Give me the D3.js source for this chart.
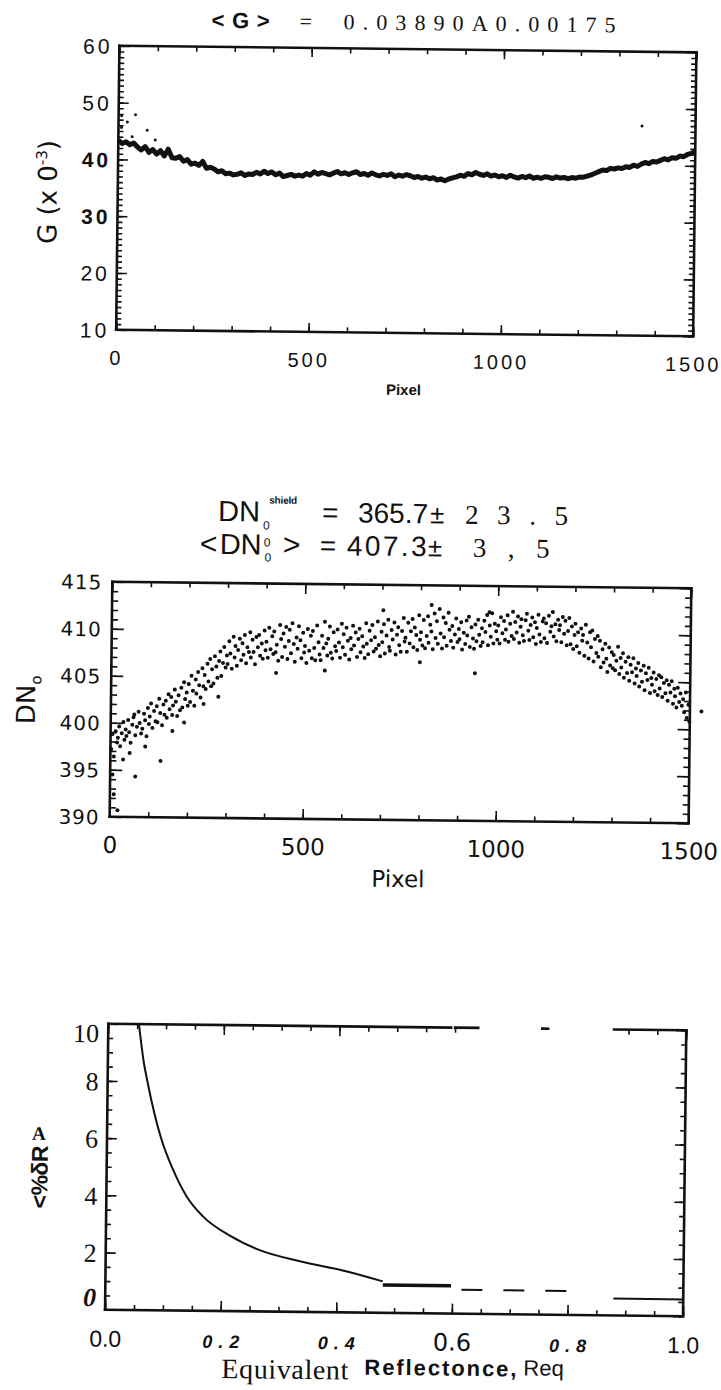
<!DOCTYPE html>
<html>
<head>
<meta charset="utf-8">
<script src="https://cdn.jsdelivr.net/npm/d3@7/dist/d3.min.js"></script>
<style>
  body { margin: 0; background: #fff; }
  svg { display: block; }
</style>
</head>
<body>
<script>
// ---------- panel 1 : G per pixel (one reading every gStep pixels) ----------
const gStep = 10
const gValues = [
  43.4, 42.8, 43.1, 42.6, 42.9, 42.2, 41.7, 42.3, 41.3, 41.8,
  41.0, 41.6, 40.7, 41.9, 40.4, 40.3, 40.6, 39.8, 40.1, 39.3,
  39.5, 39.1, 39.8, 38.6, 38.8, 38.5, 38.0, 38.2, 37.7, 37.8,
  37.5, 37.6, 37.9, 37.4, 37.7, 37.6, 38.0, 37.7, 38.2, 37.8,
  38.1, 37.6, 37.9, 37.3, 37.5, 37.7, 37.4, 37.6, 37.4, 37.9,
  37.6, 38.2, 37.8, 38.1, 37.9, 37.7, 38.0, 38.3, 37.9, 38.1,
  37.8, 38.1, 38.3, 37.8, 38.0, 37.7, 38.1, 37.8, 37.6, 37.9,
  37.7, 38.0, 37.5, 37.8, 37.6, 37.9, 37.7, 37.4, 37.6, 37.3,
  37.5, 37.2, 37.4, 37.0, 37.2, 36.9, 37.2, 37.4, 37.6, 37.9,
  37.7, 38.2, 38.0, 38.4, 38.1, 37.9, 38.2, 37.8, 38.0, 37.7,
  37.9, 37.6, 38.0, 37.7, 37.5, 37.8, 37.6, 37.9, 37.5, 37.7,
  37.5, 37.8, 37.7, 37.5, 37.8, 37.6, 37.7, 37.5, 37.7, 37.6,
  37.8, 37.8, 38.0, 38.2, 38.5, 38.8, 39.1, 39.0, 39.4, 39.3,
  39.5, 39.4, 39.7, 39.6, 40.0, 39.8, 40.2, 40.5, 40.3, 40.7,
  40.6, 40.9, 41.2, 41.0, 41.4, 41.3, 41.7, 41.6, 42.0, 42.2,
  42.5
]
const gStray = [[8, 47.7], [8, 45.6], [23, 46.6], [36, 44.0], [44, 47.9], [75, 45.2], [96, 43.5], [1361, 46.9]]
const gYTicks = [10, 20, 30, 40, 50, 60]
const pixTicks = [0, 500, 1000, 1500]

// ---------- panel 2 : DN0 per pixel ----------
const dnPoints = [
  [2,397.2],[5,398.8],[9,396.4],[13,399.1],[17,397.9],[19,398.4],
  [22,399.6],[25,397.5],[29,398.9],[33,400.1],[36,398.2],[39,399.3],
  [41,398.6],[45,400.3],[48,399.0],[52,397.9],[56,399.8],[59,400.6],
  [61,400.9],[64,398.7],[68,399.6],[72,401.2],[75,400.0],[79,398.9],
  [82,399.4],[86,401.0],[89,400.3],[93,398.6],[96,401.6],[99,399.9],
  [101,400.7],[104,402.1],[108,399.5],[112,401.3],[116,400.2],[119,401.8],
  [121,400.1],[125,402.6],[128,401.1],[133,399.8],[136,402.0],[139,400.9],
  [142,402.4],[145,400.6],[149,403.1],[152,401.5],[156,402.8],[159,400.9],
  [161,401.9],[165,403.6],[168,402.3],[172,400.8],[175,403.0],[179,401.4],
  [182,403.8],[185,401.7],[189,404.4],[192,402.6],[196,403.3],[199,401.9],
  [201,404.2],[205,402.3],[208,405.1],[212,403.5],[216,401.9],[219,404.7],
  [221,403.2],[225,405.5],[228,404.1],[232,402.8],[236,405.9],[239,404.0],
  [242,405.2],[245,403.7],[249,406.4],[252,404.5],[256,406.9],[259,404.0],
  [261,405.8],[265,404.3],[268,407.2],[272,406.1],[275,404.9],[279,406.7],
  [282,407.7],[285,405.1],[289,406.5],[292,408.2],[296,406.0],[299,407.3],
  [301,406.4],[305,408.8],[308,407.5],[312,405.9],[316,409.3],[319,407.1],
  [321,408.3],[325,406.2],[328,407.9],[332,409.1],[336,406.8],[339,408.6],
  [342,407.4],[345,409.5],[349,406.5],[352,408.2],[356,407.7],[359,409.8],
  [361,407.1],[365,409.0],[368,407.7],[372,406.4],[375,409.3],[379,408.2],
  [382,409.5],[385,407.3],[389,408.6],[392,407.0],[396,410.0],[399,407.9],
  [401,408.8],[405,407.1],[408,410.3],[412,408.0],[416,409.4],[419,407.5],
  [421,409.9],[425,407.7],[428,408.5],[432,406.8],[436,410.6],[439,409.1],
  [442,407.2],[445,409.7],[449,408.3],[452,410.4],[456,407.0],[459,408.9],
  [461,410.1],[465,407.6],[468,410.8],[472,408.6],[475,406.7],[479,409.3],
  [482,408.1],[485,410.5],[489,409.0],[492,407.1],[496,409.8],[499,407.7],
  [501,408.4],[505,406.6],[508,410.2],[512,407.9],[516,409.5],[519,407.1],
  [521,410.0],[525,408.2],[528,406.9],[532,410.6],[536,408.8],[539,407.5],
  [542,406.9],[545,409.5],[549,408.2],[552,411.0],[556,408.7],[559,407.4],
  [561,409.2],[565,410.5],[568,407.7],[572,407.1],[575,409.9],[579,408.4],
  [582,407.9],[585,410.2],[589,408.8],[592,407.2],[596,410.8],[599,408.3],
  [601,409.7],[605,407.5],[608,410.4],[612,409.0],[616,407.0],[619,409.3],
  [621,408.1],[625,410.6],[628,408.5],[632,409.9],[636,407.3],[639,409.2],
  [642,410.3],[645,407.8],[649,409.5],[652,408.4],[656,407.2],[659,410.9],
  [661,408.7],[665,407.6],[668,410.1],[672,409.1],[675,410.7],[679,407.9],
  [682,409.4],[685,408.2],[689,411.1],[692,408.6],[696,407.4],[699,410.0],
  [701,408.9],[705,410.8],[708,407.7],[712,409.6],[716,411.3],[719,408.4],
  [721,408.0],[725,410.2],[728,409.2],[732,411.0],[736,407.6],[739,409.7],
  [742,410.5],[745,408.6],[749,407.9],[752,410.1],[756,411.5],[759,409.0],
  [761,409.4],[765,407.9],[768,411.0],[772,408.8],[775,410.1],[779,411.4],
  [782,408.4],[785,410.5],[789,409.7],[792,408.1],[796,411.8],[799,409.2],
  [801,410.0],[805,408.6],[808,411.3],[812,408.3],[816,409.6],[819,411.7],
  [821,408.9],[825,410.8],[828,410.1],[832,408.2],[836,412.0],[839,409.4],
  [842,411.2],[845,408.8],[849,412.5],[852,409.9],[856,408.3],[859,411.6],
  [861,409.5],[865,411.0],[868,408.6],[872,412.1],[875,410.3],[879,409.1],
  [882,410.7],[885,408.4],[889,409.8],[892,411.5],[896,409.0],[899,410.4],
  [901,409.3],[905,411.1],[908,408.2],[912,410.0],[916,408.8],[919,411.3],
  [921,409.7],[925,411.7],[928,408.5],[932,410.6],[936,409.4],[939,408.3],
  [942,410.9],[945,409.1],[949,411.4],[952,409.8],[956,408.6],[959,410.5],
  [961,409.0],[965,411.3],[968,410.1],[972,411.9],[975,408.7],[979,410.8],
  [982,409.6],[985,412.1],[989,408.9],[992,411.0],[996,410.2],[999,409.3],
  [1001,410.8],[1005,408.9],[1008,411.7],[1012,410.0],[1016,411.3],[1019,409.3],
  [1021,410.4],[1025,411.9],[1028,409.1],[1032,411.0],[1036,409.7],[1039,412.3],
  [1042,409.4],[1045,411.2],[1049,410.1],[1052,411.8],[1056,409.0],[1059,410.7],
  [1061,411.5],[1065,409.8],[1068,409.2],[1072,411.4],[1075,412.1],[1079,410.3],
  [1082,409.3],[1085,410.9],[1089,411.7],[1092,409.6],[1096,411.2],[1099,408.9],
  [1101,410.6],[1105,412.0],[1108,409.9],[1112,409.1],[1116,411.3],[1119,411.6],
  [1121,409.5],[1125,411.1],[1128,409.0],[1132,411.9],[1136,410.2],[1139,410.8],
  [1142,412.3],[1145,409.7],[1149,411.0],[1152,409.2],[1156,411.5],[1159,410.4],
  [1161,410.9],[1165,409.1],[1168,411.8],[1172,410.0],[1175,411.4],[1179,408.8],
  [1182,410.3],[1185,411.7],[1189,408.9],[1192,410.8],[1196,408.4],[1199,409.9],
  [1201,411.1],[1205,408.7],[1208,410.2],[1212,408.0],[1216,410.6],[1219,409.3],
  [1221,409.9],[1225,407.7],[1228,411.0],[1232,409.1],[1236,407.4],[1239,410.2],
  [1242,408.6],[1245,410.4],[1249,407.1],[1252,409.5],[1256,408.0],[1259,409.8],
  [1261,407.6],[1265,409.3],[1268,406.5],[1272,408.4],[1275,407.0],[1279,409.0],
  [1282,407.4],[1285,406.0],[1289,408.6],[1292,406.7],[1296,408.1],[1299,406.4],
  [1301,407.8],[1305,406.2],[1308,407.2],[1312,408.7],[1316,405.8],[1319,407.5],
  [1321,406.5],[1325,408.0],[1328,405.4],[1332,407.1],[1336,405.9],[1339,407.6],
  [1342,405.1],[1345,406.8],[1349,406.0],[1352,407.5],[1356,404.8],[1359,406.4],
  [1361,405.6],[1365,407.0],[1368,404.5],[1372,406.2],[1375,405.0],[1379,406.7],
  [1382,404.1],[1385,405.9],[1389,405.2],[1392,406.5],[1396,403.8],[1399,405.4],
  [1401,404.7],[1405,406.0],[1408,404.0],[1412,405.3],[1416,403.6],[1419,405.7],
  [1421,404.3],[1425,405.5],[1428,403.4],[1432,404.9],[1436,403.8],[1439,405.2],
  [1442,403.0],[1445,404.7],[1449,403.9],[1452,405.1],[1456,402.7],[1459,404.3],
  [1461,403.5],[1465,402.3],[1468,404.4],[1472,402.9],[1475,403.8],[1479,402.5],
  [1482,403.2],[1485,401.8],[1489,403.9],[1492,401.2],[1496,402.6],[1499,400.8],
  // scattered outliers
  [6,394.5],[10,392.4],[20,390.7],[33,396.1],[50,396.8],[65,394.3],[90,397.5],
  [130,396.0],[160,399.2],[190,400.1],[240,402.1],[278,402.9],[427,405.5],
  [553,405.8],[703,412.3],[799,406.8],[828,412.9],[942,405.7],[978,412.2],[1530,401.9]
]
const dnYTicks = [390, 395, 400, 405, 410, 415]

// ---------- panel 3 : error vs equivalent reflectance ----------
const errCurve = [
  [0.053, 10.0], [0.0623, 8.65], [0.069, 7.98], [0.0813, 6.90], [0.094, 5.99],
  [0.1147, 4.93], [0.1386, 4.0], [0.167, 3.31], [0.216, 2.62], [0.264, 2.16],
  [0.336, 1.77], [0.416, 1.44], [0.48, 1.10]
]
const errThick = [[0.48, 0.97], [0.598, 0.97]]
const errDash = [[0.616, 0.84], [0.799, 0.84]]
const errEnd = [[0.879, 0.59], [1.0, 0.59]]
const errTopEdge = [[0, 0.593], [0.600, 0.640], [0.751, 0.761], [0.875, 1.0]]
const rTicks = [0, 0.2, 0.4, 0.6, 0.8, 1.0]
const rTickLabels = ["0.0", "0.2", "0.4", "0.6", "0.8", "1.0"]
const errYTicks = [0, 2, 4, 6, 8, 10]

// ---------- drawing ----------
const W = 721, H = 1390, ink = "#111"
const sans = "Liberation Sans", serif = "Liberation Serif", dejavu = "DejaVu Sans"
const intFmt = d3.format("d")

const svg = d3.select("body").append("svg").attr("width", W).attr("height", H)
// the scanned page is slightly tilted
const page = svg.append("g").attr("transform", "rotate(0.65 400 700)")

function txt(g, x, y, s, o) {
  const t = g.append("text").attr("x", x).attr("y", y).text(s)
    .attr("fill", ink).attr("font-family", o.f || sans).attr("font-size", o.s)
  if (o.w) t.attr("font-weight", o.w)
  if (o.i) t.attr("font-style", "italic")
  if (o.a) t.attr("text-anchor", o.a)
  if (o.len) t.attr("textLength", o.len).attr("lengthAdjust", "spacing")
  if (o.ls) t.attr("letter-spacing", o.ls)
  return t
}

function frame(g, x, y, t) {
  const [x0, x1] = x.range(), [y0, y1] = y.range()
  const sides = [
    [d3.axisLeft, `translate(${x0},0)`, y, t.yMinor, t.yMajor, t.yLen],
    [d3.axisRight, `translate(${x1},0)`, y, t.yMinor, t.yMajor, t.yLen],
    [d3.axisBottom, `translate(0,${y0})`, x, t.xMinor, t.xMajor, t.xLen],
    [d3.axisTop, `translate(0,${y1})`, x, t.topMinor || t.xMinor, t.topMajor || t.xMajor, t.xLen]
  ]
  sides.forEach(([ax, tr, sc, minor, major, len]) => {
    [[minor, len[0]], [major, len[1]]].forEach(([vals, l]) => {
      g.append("g").attr("transform", tr)
        .call(ax(sc).tickValues(vals).tickSize(-l).tickFormat(""))
        .call(a => a.select(".domain").remove())
        .selectAll("line").attr("stroke", ink).attr("stroke-width", 1.6)
    })
  })
  const edge = (a, b, c, d) => g.append("line")
    .attr("x1", a).attr("y1", b).attr("x2", c).attr("y2", d)
    .attr("stroke", ink).attr("stroke-width", 2.6).attr("stroke-linecap", "square")
  edge(x0, y0, x0, y1); edge(x1, y0, x1, y1); edge(x0, y0, x1, y0)
  if (t.topEdge) t.topEdge.forEach(([a, b]) => edge(x(a), y1, x(b), y1))
  else edge(x0, y1, x1, y1)
}

function labels(g, axis, tr, font) {
  const a = g.append("g").attr("transform", tr).call(axis)
  a.select(".domain").remove()
  a.attr("font-family", font.f).attr("font-size", font.s)
  a.selectAll("text").attr("fill", ink)
  return a
}

// ===== panel 1 =====
const x1s = d3.scaleLinear().domain([0, 1500]).range([112, 689])
const y1s = d3.scaleLinear().domain([10, 60]).range([333, 49])
const p1 = page.append("g")

txt(p1, 204, 30, "<G>", {s: 22, w: "bold", len: 58})
txt(p1, 292, 30, "=", {s: 22, f: serif})
txt(p1, 336, 30, "0.03890A0.00175", {s: 22, f: serif, len: 272})

frame(p1, x1s, y1s, {
  yMinor: d3.range(10, 60.01, 1), yMajor: gYTicks, yLen: [5, 10],
  xMinor: d3.range(0, 1500.1, 100), xMajor: pixTicks, xLen: [5, 9]
})

p1.append("path")
  .attr("d", d3.line().x((v, i) => x1s(i * gStep)).y(v => y1s(v))(gValues))
  .attr("fill", "none").attr("stroke", ink).attr("stroke-width", 5)
  .attr("stroke-linejoin", "round")
p1.selectAll("circle.stray").data(gStray).join("circle")
  .attr("cx", d => x1s(d[0])).attr("cy", d => y1s(d[1])).attr("r", 1.5).attr("fill", ink)

labels(p1, d3.axisLeft(y1s).tickValues(gYTicks).tickSize(0).tickPadding(7), "translate(112,0)", {f: sans, s: 21})
  .selectAll("text").attr("letter-spacing", 3).attr("dy", "0.36em")
  .attr("font-weight", d => (d === 40 || d === 30) ? "bold" : null)
labels(p1, d3.axisBottom(x1s).tickValues(pixTicks).tickSize(0).tickFormat(intFmt), "translate(0,333)", {f: sans, s: 20})
  .selectAll("text").attr("y", 35).attr("dy", null).attr("letter-spacing", 3)
txt(p1, 400, 395, "Pixel", {s: 15, w: "bold", a: "middle"})

const g1l = p1.append("text").attr("transform", "translate(51,196) rotate(-90)")
  .attr("text-anchor", "middle").attr("font-family", dejavu).attr("font-size", 26).attr("fill", ink)
g1l.append("tspan").text("G (x 0")
g1l.append("tspan").attr("dy", -10).attr("font-size", 15).text("-3")
g1l.append("tspan").attr("dy", 10).text(")")

// ===== panel 2 =====
const x2s = d3.scaleLinear().domain([0, 1500]).range([111, 690])
const y2s = d3.scaleLinear().domain([390, 415]).range([820, 585])
const p2 = page.append("g")

txt(p2, 216, 523, "DN", {s: 29})
txt(p2, 261, 531, "0", {s: 12})
txt(p2, 267, 505, "shield", {s: 10, w: "bold", len: 28})
txt(p2, 320, 523, "=", {s: 28, len: 18})
txt(p2, 356, 523, "365.7", {s: 28, len: 70})
txt(p2, 428, 523, "±", {s: 26})
txt(p2, 463, 523, "2 3 . 5", {s: 27, f: serif, len: 103})
txt(p2, 198, 556, "<", {s: 30})
txt(p2, 218, 556, "DN", {s: 29})
txt(p2, 262, 548, "0", {s: 12})
txt(p2, 263, 563, "0", {s: 12})
txt(p2, 281, 556, ">", {s: 30})
txt(p2, 318, 556, "=", {s: 28, len: 20})
txt(p2, 345, 556, "407.3", {s: 28, len: 80})
txt(p2, 426, 556, "±", {s: 26})
txt(p2, 471, 556, "3 , 5", {s: 27, f: serif, len: 77})

frame(p2, x2s, y2s, {
  yMinor: d3.range(390, 415.01, 1), yMajor: dnYTicks, yLen: [6, 12],
  xMinor: d3.range(0, 1500.1, 100), xMajor: pixTicks, xLen: [5, 10]
})

p2.selectAll("circle").data(dnPoints).join("circle")
  .attr("cx", d => x2s(d[0])).attr("cy", d => y2s(d[1])).attr("r", 2).attr("fill", ink)

labels(p2, d3.axisLeft(y2s).tickValues(dnYTicks).tickSize(0).tickPadding(10), "translate(111,0)", {f: dejavu, s: 20})
  .selectAll("text").attr("letter-spacing", 1).attr("dy", "0.36em")
labels(p2, d3.axisBottom(x2s).tickValues(pixTicks).tickSize(0).tickFormat(intFmt), "translate(0,820)", {f: dejavu, s: 23})
  .selectAll("text").attr("y", 36).attr("dy", null)
txt(p2, 400, 887, "Pixel", {s: 23, f: dejavu, a: "middle"})

const d2l = p2.append("text").attr("transform", "translate(35,704) rotate(-90)")
  .attr("text-anchor", "middle").attr("font-family", dejavu).attr("font-size", 26).attr("fill", ink)
d2l.append("tspan").text("DN")
d2l.append("tspan").attr("dy", 6).attr("font-size", 15).text("o")

// ===== panel 3 =====
const x3s = d3.scaleLinear().domain([0, 1]).range([112, 690])
const y3s = d3.scaleLinear().domain([0, 10]).range([1313, 1027])
const p3 = page.append("g")

const topMinor = d3.range(0, 1.001, 0.05).filter(v => errTopEdge.some(([a, b]) => v >= a && v <= b))
frame(p3, x3s, y3s, {
  yMinor: d3.range(0, 10.01, 0.5), yMajor: errYTicks, yLen: [5, 10],
  xMinor: d3.range(0, 1.001, 0.05), xMajor: rTicks, xLen: [5, 10],
  topMinor: topMinor, topMajor: rTicks.filter(v => topMinor.includes(v)),
  topEdge: errTopEdge
})

const ln = d3.line().x(d => x3s(d[0])).y(d => y3s(d[1]))
p3.append("path").attr("d", ln.curve(d3.curveMonotoneX)(errCurve))
  .attr("fill", "none").attr("stroke", ink).attr("stroke-width", 2)
const ls = d3.line().x(d => x3s(d[0])).y(d => y3s(d[1]))
p3.append("path").attr("d", ls(errThick)).attr("stroke", ink).attr("stroke-width", 3.5)
p3.append("path").attr("d", ls(errDash)).attr("stroke", ink).attr("stroke-width", 2).attr("stroke-dasharray", "21,21")
p3.append("path").attr("d", ls(errEnd)).attr("stroke", ink).attr("stroke-width", 2)

const errLabelShift = {0: -13, 10: 9}
labels(p3, d3.axisLeft(y3s).tickValues(errYTicks).tickSize(0).tickPadding(9), "translate(112,0)", {f: serif, s: 26})
  .selectAll("text").attr("dy", "0.35em")
  .attr("y", d => errLabelShift[d] || 0)
  .attr("font-weight", d => d === 0 ? "bold" : null)
  .attr("font-style", d => d === 0 ? "italic" : null)

const rLabelFont = [
  {f: sans, s: 23},
  {f: sans, s: 18, w: "bold", i: true, len: 37},
  {f: sans, s: 18, w: "bold", i: true, len: 37},
  {f: dejavu, s: 24},
  {f: sans, s: 18, w: "bold", i: true, len: 37},
  {f: sans, s: 23}
]
labels(p3, d3.axisBottom(x3s).tickValues(rTicks).tickSize(0).tickFormat((d, i) => rTickLabels[i]),
  "translate(0,1313)", {f: sans, s: 21})
  .selectAll("text").attr("y", 37).attr("dy", null)
  .each(function (d, i) {
    const st = rLabelFont[i], t = d3.select(this)
    t.attr("font-family", st.f).attr("font-size", st.s)
      .attr("font-weight", st.w || null).attr("font-style", st.i ? "italic" : null)
    if (st.len) t.attr("textLength", st.len).attr("lengthAdjust", "spacing")
  })

txt(p3, 229, 1380, "Equivalent", {s: 28, f: serif, len: 127})
txt(p3, 372, 1375, "Reflectonce,", {s: 22, w: "bold", len: 152})
txt(p3, 531, 1374, "Req", {s: 22})

p3.append("text").attr("transform", "translate(53,1181) rotate(-90)")
  .attr("text-anchor", "middle").attr("font-family", sans).attr("font-weight", "bold")
  .attr("font-size", 23).attr("fill", ink).attr("textLength", 63).attr("lengthAdjust", "spacing")
  .text("<%δR")
txt(p3, 44, 1144, "A", {s: 19, f: serif, w: "bold", a: "middle"})
</script>
</body>
</html>
